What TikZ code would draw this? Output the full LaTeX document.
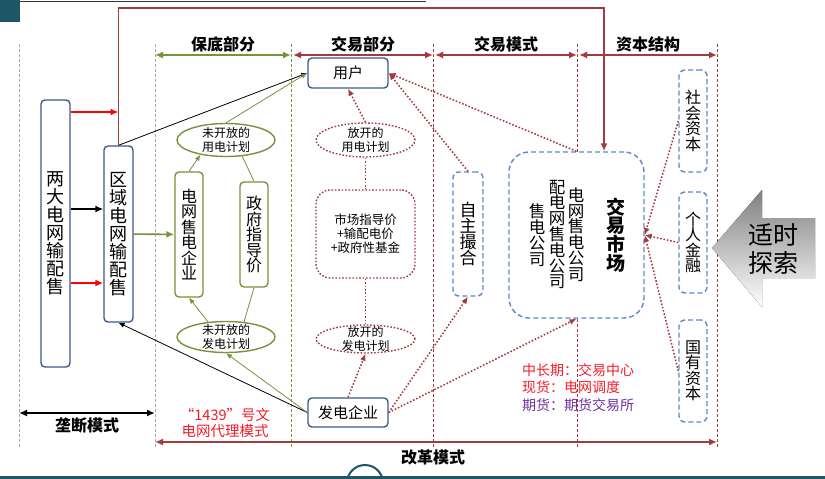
\documentclass[tikz,border=0pt]{standalone}
\usepackage{fontspec}
\setmainfont{Noto Sans CJK SC}
\usetikzlibrary{arrows.meta,positioning,shapes.geometric}

\definecolor{frameblue}{HTML}{3D5B88}
\definecolor{dashblue}{HTML}{5B8BC8}
\definecolor{leaf}{HTML}{77933C}
\definecolor{brick}{HTML}{A23A3E}
\definecolor{deepteal}{HTML}{1D5765}
\definecolor{alarm}{HTML}{F0202A}
\definecolor{plum}{HTML}{7030A0}
\definecolor{shade}{HTML}{D4D4D4}
\newcommand*{\setfs}[2]{\fontsize{#1}{#2}\selectfont}

\begin{document}
\begin{tikzpicture}[
  x=1pt, y=-1pt,
  >={Latex[length=8pt,width=7pt]},
  grid box/.style={draw=frameblue, line width=1.4pt, rounded corners=4pt, fill=white,
    inner sep=0pt, align=center},
  leaf box/.style={draw=leaf, line width=1.4pt, rounded corners=4pt, inner sep=0pt,
    align=center, minimum width=28pt, font=\setfs{16}{15.5}},
  dash box/.style={draw=dashblue, line width=1.4pt, dash pattern=on 5pt off 3pt,
    rounded corners=6pt, inner sep=0pt, align=center, fill=white},
  dots/.style={brick, line width=1.4pt, dash pattern=on 1.6pt off 1.8pt},
  shut plan/.style={ellipse, draw=leaf, line width=1.4pt, inner xsep=10pt, inner ysep=-3pt,
    minimum width=98pt, minimum height=33pt, align=center, font=\setfs{12}{13.5}},
  open plan/.style={ellipse, draw, dots, text=black, inner xsep=10pt,
    inner ysep=-3pt, minimum width=99pt, align=center, font=\setfs{12}{13.5}},
  header/.style={font=\setfs{16}{16}\bfseries, text=black, inner sep=2pt},
  feed/.style={red, line width=1.6pt, ->},
  thin link/.style={line width=0.8pt, -{Latex[length=6pt,width=5pt]}},
  flow/.style={dots, line width=1.5pt, -{Latex[length=7pt,width=6pt]}},
]
  \useasboundingbox (0,0) rectangle (825,479);
  \fill[white] (0,0) rectangle (825,479);

  % page decoration
  \fill[deepteal] (0,0) rectangle (20,22);
  \draw[black!80, line width=0.8pt] (20,1) -- (426,1);
  \draw[deepteal, line width=2pt, fill=white] (365,483) circle[radius=18];
  \fill[deepteal] (0,476) rectangle (825,479);

  % section borders, coordinates: a-head, a-foot, a-low, ...
  \foreach \name/\x/\col in {a/19/gray!70, b/155/gray!70, c/291/leaf,
                              d/433/brick, e/577/brick, f/717/brick} {
    \draw[\col, line width=0.9pt, dash pattern=on 3pt off 2pt] (\x,44) -- (\x,447);
    \coordinate (\name-head) at (\x,55);
    \coordinate (\name-foot) at (\x,442);
    \coordinate (\name-low) at (\x,413);
  }

  % section titles
  \draw[<->, leaf, line width=1.6pt] (b-head) -- (c-head)
    node[midway, above, header] {保底部分};
  \draw[<->, brick, line width=1.6pt] ([xshift=2pt]c-head) -- (d-head)
    node[midway, above, header] {交易部分};
  \draw[<->, brick, line width=1.6pt] ([xshift=2pt]d-head) -- (e-head)
    node[midway, above, header] {交易模式};
  \draw[<->, brick, line width=1.6pt] ([xshift=2pt]e-head) -- (f-head)
    node[midway, above, header] {资本结构};
  \draw[<->, line width=1.6pt] (a-low) -- (b-low)
    node[midway, below=2pt, header] {垄断模式};
  \draw[<->, brick, line width=1.6pt] (b-foot) -- (f-foot)
    node[pos=0.495, below=5pt, header] {改革模式};

  % monopoly grids
  \node[grid box, minimum width=29pt, minimum height=267pt, font=\setfs{18}{18}]
    (liangda) at (55.5,233.5) {两\\大\\电\\网\\输\\配\\售};
  \node[grid box, minimum width=29pt, minimum height=176pt, font=\setfs{18}{18}]
    (quyu) at (118.5,234) {区\\域\\电\\网\\输\\配\\售};

  % guaranteed part
  \node[leaf box, minimum height=125pt] (dwqy) at (189,234.5) {电\\网\\售\\电\\企\\业};
  \node[leaf box, minimum height=105pt] (zfzd) at (254,234.5) {政\\府\\指\\导\\价};
  \node[shut plan] (wyd) at (226,140) {未开放的\\用电计划};
  \node[shut plan, minimum height=31pt] (wfd) at (226,337) {未开放的\\发电计划};

  % trading part
  \node[grid box, minimum width=80pt, minimum height=30pt, font=\setfs{15}{15}]
    (yonghu) at (348,73) {用户};
  \node[open plan, minimum height=34pt] (fyd) at (365.5,140) {放开的\\用电计划};
  \node[draw, dots, text=black, rounded corners=14pt, minimum width=99pt,
    minimum height=88pt, align=center, font=\setfs{12.5}{14}]
    (jiage) at (365.5,234) {市场指导价\\+输配电价\\+政府性基金};
  \node[open plan, minimum height=28pt] (ffd) at (365.5,339) {放开的\\发电计划};
  \node[grid box, minimum width=80pt, minimum height=29pt, font=\setfs{15}{15}]
    (fadian) at (348,412.5) {发电企业};

  % trading mode
  \node[dash box, minimum width=30pt, minimum height=124pt, font=\setfs{17}{16}]
    (zizhu) at (468,234) {自\\主\\撮\\合};
  \node[dash box, rounded corners=20pt, minimum width=135pt, minimum height=166pt]
    (jiaoyi) at (576.5,235) {};
  \node[align=center, font=\setfs{19}{17.5}\bfseries] (jysc) at (616,235) {交\\易\\市\\场};
  \node[align=center, font=\setfs{16.5}{15.8}] (dwgs) at (576,234.5) {电\\网\\售\\电\\公\\司};
  \node[align=center, font=\setfs{16.5}{15.8}] (pdgs) at (557,234.5) {配\\电\\网\\售\\电\\公\\司};
  \node[align=center, font=\setfs{16.5}{15.8}] (sdgs) at (537,235) {售\\电\\公\\司};

  % capital structure
  \node[dash box, minimum width=28pt, minimum height=102pt, font=\setfs{16}{15.5}]
    (shehui) at (693,121) {社\\会\\资\\本};
  \node[dash box, minimum width=28pt, minimum height=101pt, font=\setfs{16}{15.5}]
    (geren) at (693,242.5) {个\\人\\金\\融};
  \node[dash box, minimum width=28pt, minimum height=102pt, font=\setfs{16}{15.5}]
    (guoyou) at (693,371) {国\\有\\资\\本};

  % explore arrow
  \fill[shade] (712,248) -- (762,190) -- (762,218) -- (815,218) -- (815,278)
    -- (762,278) -- (762,307) -- cycle;
  \node[align=center, font=\setfs{25}{28}] (tansuo) at (773,249) {适时\\探索};

  % notes
  \node[align=center, text=alarm, font=\setfs{14.5}{16}] (wenjian) at (225,423)
    {“1439”号文\\电网代理模式};
  \node[anchor=west, align=left, inner sep=0pt, font=\setfs{14}{17.5}] (qihuo) at (522,387.5)
    {\textcolor{alarm}{中长期：交易中心}\\\textcolor{alarm}{现货：电网调度}\\
     \textcolor{plum}{期货：期货交易所}};

  % grid connections
  \draw[feed] (liangda.east |- 0,112) -- (quyu.north |- 0,112);
  \draw[->, line width=1.4pt] (liangda.east |- 0,209) -- (quyu.west |- 0,209);
  \draw[feed] (liangda.east |- 0,283) -- (quyu.west |- 0,283);
  \draw[brick, line width=1.6pt, ->] (quyu.north) -- (quyu.north |- 0,8)
    -| ([xshift=27.5pt]jiaoyi.north);
  \draw[->, leaf, line width=1.6pt] (quyu) -- (dwqy);
  \draw[thin link] (quyu.north) -- (yonghu.west);
  \draw[thin link] (fadian.west) -- (quyu.south);

  % guaranteed links
  \draw[thin link, leaf] (wyd.north) -- (yonghu.west);
  \draw[thin link, leaf] (dwqy.north) -- (wyd.210);
  \draw[leaf, line width=0.8pt] (zfzd.north) -- (wyd.315);
  \draw[leaf, line width=0.8pt] (zfzd.south) -- (wfd.40);
  \draw[thin link, leaf] (wfd.140) -- (dwqy.south);
  \draw[thin link, leaf] (fadian.west) -- (wfd.south);

  % market links
  \draw[flow] (fyd.north) -- (yonghu.south);
  \draw[dots, line width=0.8pt] (fyd) -- (jiage);
  \draw[dots, line width=0.8pt] (jiage) -- (ffd);
  \draw[flow] (fadian.north) -- (ffd.south);
  \draw[flow] (fadian.east) -- (zizhu.south);
  \draw[flow] (fadian.east) -- (jiaoyi.south);
  \draw[flow] (zizhu.north) -- (yonghu.east);
  \draw[flow] (jiaoyi.north) -- (yonghu.east);
  \foreach \src in {shehui, geren, guoyou}
    \draw[flow] (\src.west) -- (jiaoyi.east);
\end{tikzpicture}
\end{document}
